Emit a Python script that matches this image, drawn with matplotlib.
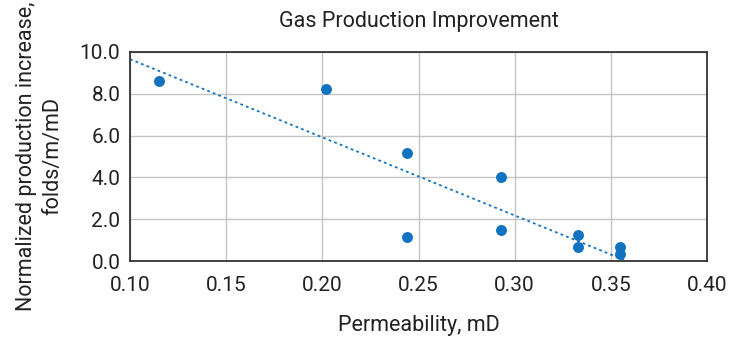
import matplotlib
matplotlib.use("Agg")
from matplotlib import pyplot as plt

# permeability (mD) vs normalized production increase (folds/m/mD)
permeability = [0.115, 0.202, 0.244, 0.244, 0.293, 0.293, 0.333, 0.333, 0.355, 0.355]
production_increase = [8.61, 8.23, 5.17, 1.13, 4.02, 1.48, 1.26, 0.65, 0.65, 0.33]

# dotted trend line, from its two ends
trend_x = [0.10, 0.357]
trend_y = [9.65, 0.05]

x_ticks = [0.10, 0.15, 0.20, 0.25, 0.30, 0.35, 0.40]
y_ticks = [0.0, 2.0, 4.0, 6.0, 8.0, 10.0]

plt.rcParams['font.family'] = ['Roboto', 'DejaVu Sans']

blue = '#1172c0'
text_col = '#222222'

fig = plt.figure(figsize=(7.45, 3.39), dpi=100)
ax = fig.add_axes([0.1745, 0.230, 0.7745, 0.617])

ax.plot(trend_x, trend_y, color=blue, linestyle=(0, (1.5, 1.8)), linewidth=1.3, zorder=2)
ax.scatter(permeability, production_increase, s=62, color=blue, zorder=3, linewidths=0)

ax.set_xlim(0.10, 0.40)
ax.set_ylim(0.0, 10.0)
ax.set_xticks(x_ticks)
ax.set_yticks(y_ticks)
ax.set_xticklabels([f"{t:.2f}" for t in x_ticks])
ax.set_yticklabels([f"{t:.1f}" for t in y_ticks])
ax.tick_params(axis='both', length=0, labelsize=15, colors=text_col)
ax.tick_params(axis='x', pad=11)
ax.tick_params(axis='y', pad=7)

ax.grid(True, color='#c4c4c4', linewidth=1.0)
ax.set_axisbelow(True)
for side in ['left', 'right', 'top', 'bottom']:
    ax.spines[side].set_color('#333333')
    ax.spines[side].set_linewidth(1.3)

ax.set_title("Gas Production Improvement", fontsize=15.5, color=text_col, pad=18)
ax.set_xlabel("Permeability, mD", fontsize=15.5, color=text_col, labelpad=14)
ax.set_ylabel("Normalized production increase,\nfolds/m/mD", fontsize=15.5, color=text_col,
              labelpad=12, linespacing=1.3)

fig.savefig("out.png", dpi=100)
